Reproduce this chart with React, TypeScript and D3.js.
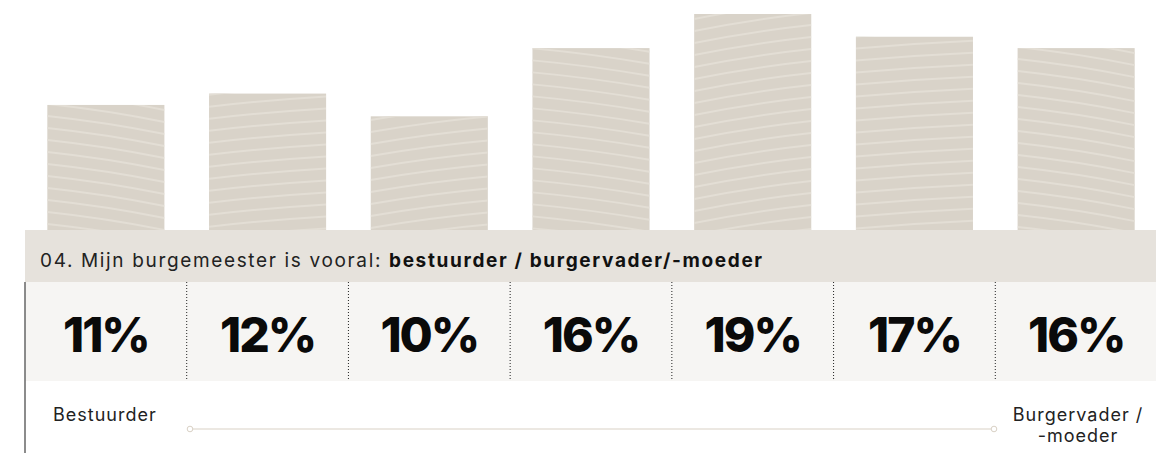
import React from "react";
import * as d3 from "d3";

const categories = ["1", "2", "3", "4", "5", "6", "7"];
const values = [11, 12, 10, 16, 19, 17, 16];
const valueLabels = ["11%", "12%", "10%", "16%", "19%", "17%", "16%"];
// curvature of the decorative wave lines in each bar
const waveBends = [-0.35, 0.2, 0.3, -0.3, 0.35, 0.15, -0.35];
const questionPrefix = "04. Mijn burgemeester is vooral: ";
const questionBold = "bestuurder / burgervader/-moeder";
const leftLabel = "Bestuurder";
const rightLabel = ["Burgervader /", "-moeder"];

const W = 1164;
const H = 461;
const left = 25;
const right = 1157;
const baseY = 230;
const bandBottom = 282;
const valuesBottom = 381;
const font = "Inter, 'Open Sans', sans-serif";

export default function App() {
  const col = d3.scaleBand<string>().domain(categories).range([left, right]).padding(0);
  const bar = d3
    .scaleBand<string>()
    .domain(categories)
    .range([left, right])
    .paddingInner(0.276)
    .paddingOuter(0.138);
  const y = d3.scaleLinear().domain([0, 19]).range([baseY, 14]);

  const wavePath = (x0: number, w: number, top: number, bend: number) => {
    const p = d3.path();
    const step = 12;
    for (let yy = top - 40; yy < baseY + 40; yy += step) {
      const tilt = bend * w * 0.22;
      p.moveTo(x0, yy + tilt);
      p.quadraticCurveTo(x0 + w / 2, yy - Math.abs(bend) * 8, x0 + w, yy - tilt);
    }
    return p.toString();
  };

  return (
    <div style={{ margin: -8 }}>
      <svg width={W} height={H} style={{ display: "block", background: "#fff" }}>
        <defs>
          {categories.map((c, i) => (
            <clipPath id={`clip${i}`} key={c}>
              <rect x={bar(c)} y={y(values[i])} width={bar.bandwidth()} height={baseY - y(values[i])} />
            </clipPath>
          ))}
        </defs>
        {categories.map((c, i) => (
          <g key={c}>
            <rect
              x={bar(c)}
              y={y(values[i])}
              width={bar.bandwidth()}
              height={baseY - y(values[i])}
              fill="#d9d3c9"
            />
            <path
              d={wavePath(bar(c)!, bar.bandwidth(), y(values[i]), waveBends[i])}
              clipPath={`url(#clip${i})`}
              fill="none"
              stroke="#e3ded5"
              strokeWidth={2}
            />
          </g>
        ))}

        <rect x={left} y={baseY} width={right - left} height={bandBottom - baseY} fill="#e6e2dc" />
        <text x={40} y={267} fontFamily={font} fontSize={19} letterSpacing={1.65} fill="#222">
          {questionPrefix}
          <tspan fontWeight={700} fill="#111">{questionBold}</tspan>
        </text>

        <rect x={left} y={bandBottom} width={right - left} height={valuesBottom - bandBottom} fill="#f6f5f3" />
        {categories.slice(1).map((c) => (
          <line
            key={c}
            x1={col(c)}
            x2={col(c)}
            y1={bandBottom}
            y2={valuesBottom}
            stroke="#222"
            strokeWidth={1}
            strokeDasharray="1 2"
          />
        ))}
        {categories.map((c, i) => (
          <text
            key={c}
            x={col(c)! + col.bandwidth() / 2}
            y={352}
            textAnchor="middle"
            fontFamily={font}
            fontWeight={800}
            fontSize={48}
            letterSpacing={-2}
            fill="#0a0a0a"
          >
            {valueLabels[i]}
          </text>
        ))}

        <line x1={left} x2={left} y1={bandBottom} y2={H} stroke="#666" strokeWidth={1.5} />
        <line x1={right} x2={right} y1={bandBottom} y2={H} stroke="#666" strokeWidth={1.5} />

        <text x={53} y={421} fontFamily={font} fontSize={18} letterSpacing={1} fill="#222">
          {leftLabel}
        </text>
        <line x1={193} x2={991} y1={429} y2={429} stroke="#d9d1c5" strokeWidth={1} />
        <circle cx={190} cy={429} r={2.8} fill="#fff" stroke="#d9d1c5" strokeWidth={1} />
        <circle cx={994} cy={429} r={2.8} fill="#fff" stroke="#d9d1c5" strokeWidth={1} />
        {rightLabel.map((t, i) => (
          <text
            key={t}
            x={1078}
            y={421 + i * 21}
            textAnchor="middle"
            fontFamily={font}
            fontSize={18}
            letterSpacing={1}
            fill="#222"
          >
            {t}
          </text>
        ))}
      </svg>
    </div>
  );
}
